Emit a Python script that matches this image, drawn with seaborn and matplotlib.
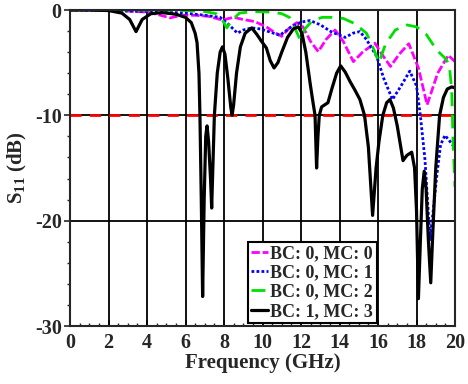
import matplotlib
matplotlib.use("Agg")
import matplotlib.pyplot as plt
import pandas as pd
import seaborn as sns
from matplotlib.ticker import MultipleLocator

# values (GHz, dB)
freq_m = [0, 2, 3, 4, 4.6, 5.2, 5.8, 6.5, 7.2, 7.9, 8.5, 9.0, 9.6, 10.2, 10.6, 11.0, 11.4,
          11.78, 12.1, 12.5, 12.9, 13.3, 13.77, 14.2, 14.72, 15.2, 15.84, 16.2, 16.65, 17.1,
          17.6, 18.1, 18.55, 19.1, 19.65, 20]
s11_m = [0, -0.05, -0.1, -0.2, -0.45, -0.75, -0.5, -0.5, -0.6, -0.95, -0.7, -0.9, -1.1, -1.6,
         -2.1, -2.5, -1.7, -1.2, -1.6, -3.0, -3.95, -2.8, -1.9, -3.0, -4.9, -4.0, -3.15, -4.2,
         -5.36, -4.2, -3.2, -5.5, -9.0, -6.0, -4.3, -4.9]

freq_b = [0, 2, 4, 5, 6, 7, 7.8, 8.2, 8.7, 9.0, 9.45, 9.9, 10.4, 10.9, 11.5, 12.0, 12.47, 13.0,
          13.6, 14.3, 14.7, 15.06, 15.4, 15.93, 16.3, 16.75, 17.2, 17.65, 18.0, 18.2, 18.44,
          18.7, 18.9, 19.05, 19.25, 19.48, 19.75, 20]
s11_b = [0, -0.05, -0.15, -0.2, -0.3, -0.5, -0.7, -1.3, -2.2, -1.9, -1.7, -1.8, -2.1, -2.4,
         -1.6, -1.15, -1.0, -1.4, -2.1, -2.6, -2.2, -2.05, -2.8, -4.4, -6.5, -8.5, -7.2, -5.8,
         -7.2, -10, -14.2, -21.8, -18.5, -15.8, -12.8, -11.9, -12.5, -13.1]

freq_g = [0, 5, 6, 7, 7.6, 7.9, 8.15, 8.4, 8.8, 9.5, 10.5, 11.0, 11.4, 11.7, 11.95, 12.2, 12.6,
          13.1, 13.6, 14.2, 14.8, 15.4, 15.8, 16.05, 16.4, 16.9, 17.5, 18.0, 18.5, 19.05, 19.5,
          19.7, 19.83, 19.9, 20]
s11_g = [0, 0, -0.05, -0.15, -0.35, -0.9, -1.7, -1.0, -0.3, -0.15, -0.2, -0.35, -0.7, -1.8,
         -2.8, -1.8, -1.0, -0.7, -0.7, -0.8, -1.3, -2.2, -3.8, -5.0, -3.2, -1.9, -1.42, -1.6,
         -2.3, -3.8, -4.6, -5.2, -7.6, -12.6, -16.8]

freq_k = [0, 1, 2, 2.7, 3.1, 3.43, 3.75, 4.2, 4.8, 5.5, 6.0, 6.3, 6.5, 6.6, 6.7, 6.75, 6.82,
          6.89, 6.97, 7.05, 7.12, 7.2, 7.3, 7.36, 7.42, 7.5, 7.65, 7.8, 7.92, 8.05, 8.2, 8.35,
          8.42, 8.5, 8.65, 8.85, 9.1, 9.44, 9.7, 9.96, 10.2, 10.4, 10.6, 10.8, 11.0, 11.3, 11.6,
          11.86, 12.05, 12.25, 12.47, 12.6, 12.73, 12.81, 12.88, 12.95, 13.07, 13.4, 13.6,
          13.85, 14.06, 14.3, 14.55, 14.8, 15.06, 15.3, 15.5, 15.72, 15.9, 16.05, 16.25, 16.45,
          16.62, 16.8, 17.0, 17.3, 17.5, 17.75, 17.9, 18.0, 18.1, 18.2, 18.3, 18.4, 18.5, 18.62,
          18.74, 18.85, 19.0, 19.2, 19.4, 19.6, 19.83, 20]
s11_k = [0, 0, -0.05, -0.3, -0.9, -2.05, -0.9, -0.35, -0.25, -0.4, -0.7, -1.2, -2.2, -3.1,
         -6, -10, -18, -27.2, -18, -12, -11, -12.5, -16, -18.8, -15, -10, -6, -4, -3.5, -4.2,
         -6.5, -9.2, -10, -9, -6, -3.5, -2.2, -1.7, -2.3, -3.0, -3.6, -4.8, -5.5, -5, -4, -2.6,
         -1.8, -1.6, -2.2, -4, -6.9, -8.5, -10, -15, -12, -10, -9.2, -8.8, -7.5, -6, -5.3,
         -5.9, -6.8, -7.6, -8.5, -10, -13, -19.5, -15, -12.5, -10, -8.8, -8.5, -9.3, -11,
         -14.3, -13.8, -13.5, -15, -19, -27.4, -22, -17, -15.3, -17, -22, -25.9, -21, -15,
         -10, -8.3, -7.5, -7.3, -7.4]

labels = ["BC: 0, MC: 0", "BC: 0, MC: 1", "BC: 0, MC: 2", "BC: 1, MC: 3"]
colors = ["#ff00ff", "#0000ff", "#00e000", "#000000"]
dashes = [(0, (3, 1)), (0, (1, 0.8)), (0, (5, 3)), "-"]
widths = [2.0, 2.0, 2.0, 2.3]

sns.set_style("ticks")
plt.rcParams["font.family"] = ["Liberation Serif", "DejaVu Serif"]
plt.rcParams["font.weight"] = "bold"
plt.rcParams["axes.labelweight"] = "bold"
plt.rcParams["axes.unicode_minus"] = False
plt.rcParams["mathtext.fontset"] = "custom"
plt.rcParams["mathtext.rm"] = "Liberation Serif:bold"
plt.rcParams["mathtext.it"] = "Liberation Serif:bold"
plt.rcParams["mathtext.bf"] = "Liberation Serif:bold"

fig = plt.figure(figsize=(4.68, 3.84), dpi=100)
ax = fig.add_axes([70 / 468, 58 / 384, 385 / 468, 316 / 384])

# grid lines
for g in range(2, 20, 2):
    ax.axvline(g, color="black", lw=1.3, zorder=1)
for h in [-10, -20]:
    ax.axhline(h, color="black", lw=1.3, zorder=1)
ax.axhline(-10, color="red", lw=2, ls=(0, (4, 3)), zorder=1.5)

series = [(freq_m, s11_m), (freq_b, s11_b), (freq_g, s11_g), (freq_k, s11_k)]
handles = []
for i, (f, s) in enumerate(series):
    df = pd.DataFrame({"f": f, "s": s})
    sns.lineplot(data=df, x="f", y="s", ax=ax, color=colors[i], lw=widths[i],
                 linestyle=dashes[i], estimator=None, sort=False, zorder=3 + i)
    handles.append(ax.lines[-1])

ax.set_xlim(0, 20)
ax.set_ylim(-30, 0)
ax.xaxis.set_major_locator(MultipleLocator(2))
ax.xaxis.set_minor_locator(MultipleLocator(0.5))
ax.yaxis.set_major_locator(MultipleLocator(10))
ax.yaxis.set_minor_locator(MultipleLocator(2))
ax.tick_params(axis="x", which="both", direction="in", labelsize=14.5, pad=5)
ax.tick_params(axis="y", which="both", direction="out", labelsize=14.5, pad=2)
ax.tick_params(which="major", length=4, width=1.2)
ax.tick_params(which="minor", length=2.5, width=1)
for sp in ax.spines.values():
    sp.set_linewidth(1.5)
    sp.set_zorder(10)

ax.set_xlabel("Frequency (GHz)", fontsize=15, labelpad=0)
ax.set_ylabel("S$_{11}$ (dB)", fontsize=15, labelpad=4)

leg = ax.legend(handles, labels, loc="lower right", bbox_to_anchor=(0.797, 0.008),
                borderaxespad=0, fontsize=13, handlelength=0.9, handletextpad=0.15,
                labelspacing=0.12, borderpad=0.2, fancybox=False, framealpha=1,
                edgecolor="black", prop={"weight": "bold", "size": 13})
leg.get_frame().set_linewidth(1.5)
leg.set_zorder(20)

fig.savefig("out.png", dpi=100)
